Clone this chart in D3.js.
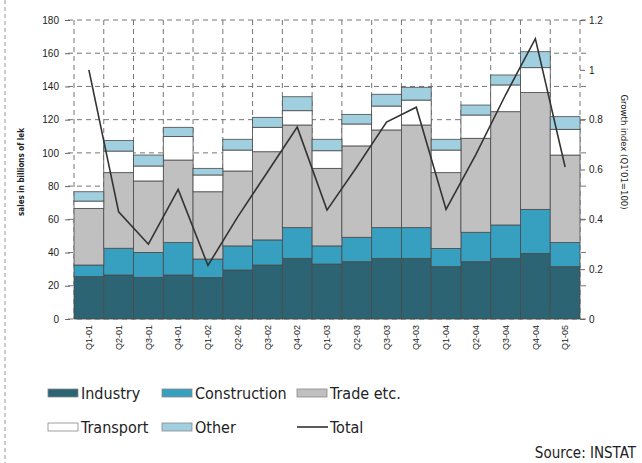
<!DOCTYPE html>
<html>
<head>
<meta charset="utf-8">
<script src="https://cdn.jsdelivr.net/npm/d3@7"></script>
<style>
  body { margin: 0; background: #fff; }
  svg { display: block; font-family: "DejaVu Sans Condensed", sans-serif; }
</style>
</head>
<body>
<script>
const w = 642;
const h = 463;

// quarters
const quarters = ["Q1-01","Q2-01","Q3-01","Q4-01","Q1-02","Q2-02","Q3-02","Q4-02",
  "Q1-03","Q2-03","Q3-03","Q4-03","Q1-04","Q2-04","Q3-04","Q4-04","Q1-05"];

// sales in billions of lek, per sector
const industry     = [25.5, 26.5, 25.1, 26.5, 24.9, 29.5, 32.5, 36.5, 33.1, 34.5, 36.5, 36.5, 31.5, 34.5, 36.5, 39.5, 31.5];
const construction = [7.0, 16.1, 15.0, 19.5, 11.2, 14.5, 15.1, 18.5, 10.9, 14.7, 18.5, 18.5, 11.0, 17.7, 20.1, 26.5, 14.5];
const trade        = [34.1, 45.5, 43.0, 49.7, 40.5, 45.1, 53.1, 61.8, 46.7, 55.0, 58.8, 61.8, 45.6, 56.6, 68.2, 70.3, 52.7];
const transport    = [4.4, 13.0, 9.0, 14.1, 10.1, 12.6, 14.7, 8.6, 10.6, 13.2, 14.4, 15.0, 13.6, 14.0, 16.1, 15.0, 15.5];
const other        = [5.6, 6.3, 6.6, 5.6, 4.0, 6.5, 6.0, 8.4, 6.9, 5.8, 7.1, 7.7, 6.5, 6.0, 6.0, 9.6, 7.6];

// growth index (Q1'01 = 100), right axis
const total = [1.0, 0.43, 0.30, 0.52, 0.215, 0.41, 0.59, 0.77, 0.437, 0.61, 0.79, 0.85, 0.44, 0.66, 0.90, 1.125, 0.61];

const leftTicks = [0, 20, 40, 60, 80, 100, 120, 140, 160, 180];
const rightTicks = [0, 0.2, 0.4, 0.6, 0.8, 1, 1.2];

const sectors = ["Industry", "Construction", "Trade etc.", "Transport", "Other"];
const sectorData = [industry, construction, trade, transport, other];
const colors = ["#2d6474", "#37a0c0", "#c0c0c0", "#ffffff", "#a0d0e0"];

const table = quarters.map((q, i) => {
  const row = { q: q };
  sectors.forEach((s, j) => row[s] = sectorData[j][i]);
  row.total = total[i];
  return row;
});

const svg = d3.select("body").append("svg").attr("width", w).attr("height", h);

// page border dashes at the left
svg.append("line")
  .attr("x1", 5).attr("x2", 5).attr("y1", 0).attr("y2", h)
  .attr("stroke", "#999").attr("stroke-dasharray", "4,3");

const xScale = d3.scaleBand().domain(quarters).range([74, 580]).padding(0);
const yScale = d3.scaleLinear().domain([0, 180]).range([319, 20]);
const y2Scale = d3.scaleLinear().domain([0, 1.2]).range([319, 20]);

// grid
const grid = svg.append("g").attr("stroke", "#666").attr("stroke-dasharray", "5,4").attr("stroke-width", 0.9);
grid.selectAll(".hg")
  .data(leftTicks)
  .enter()
  .append("line")
  .attr("x1", 68).attr("x2", 586)
  .attr("y1", d => yScale(d)).attr("y2", d => yScale(d));
grid.selectAll(".vg")
  .data(quarters.concat(["end"]))
  .enter()
  .append("line")
  .attr("x1", (d, i) => i < quarters.length ? xScale(d) : xScale.range()[1])
  .attr("x2", (d, i) => i < quarters.length ? xScale(d) : xScale.range()[1])
  .attr("y1", 20).attr("y2", 319);

// stacked bars
const stack = d3.stack().keys(sectors)(table);
svg.append("g")
  .selectAll("g")
  .data(stack)
  .enter()
  .append("g")
  .attr("fill", (d, i) => colors[i])
  .selectAll("rect")
  .data(d => d)
  .enter()
  .append("rect")
  .attr("x", d => xScale(d.data.q))
  .attr("width", xScale.bandwidth())
  .attr("y", d => yScale(d[1]))
  .attr("height", d => yScale(d[0]) - yScale(d[1]))
  .attr("stroke", "#4a4a4a")
  .attr("stroke-width", 0.8);

// total line
const line = d3.line()
  .x(d => xScale(d.q) + xScale.bandwidth() / 2)
  .y(d => y2Scale(d.total));
svg.append("path")
  .datum(table)
  .attr("d", line)
  .attr("fill", "none")
  .attr("stroke", "#333")
  .attr("stroke-width", 1.6);

// axes
const yAxis = d3.axisLeft(yScale).tickValues(leftTicks).tickSize(5).tickPadding(6);
const y2Axis = d3.axisRight(y2Scale).tickValues(rightTicks).tickSize(5).tickPadding(4)
  .tickFormat(d3.format("~g"));
const xAxis = d3.axisBottom(xScale).tickSize(0).tickPadding(0);

const gl = svg.append("g").attr("transform", "translate(70,0)").call(yAxis);
const gr = svg.append("g").attr("transform", "translate(580,0)").call(y2Axis);
const gx = svg.append("g").attr("transform", "translate(0,319)").call(xAxis);

[gl, gr, gx].forEach(g => {
  g.select(".domain").remove();
  g.selectAll("line").attr("stroke", "#666");
  g.selectAll("text").attr("fill", "#222").style("font-size", "10px");
});

gx.selectAll("text")
  .attr("transform", "rotate(-90)")
  .attr("text-anchor", "end")
  .attr("x", -6)
  .attr("y", 0)
  .attr("dy", "0.35em")
  .style("font-size", "9px");

// axis titles
svg.append("text")
  .attr("transform", "translate(24,172) rotate(-90)")
  .attr("text-anchor", "middle")
  .style("font-size", "8px")
  .style("font-weight", "bold")
  .attr("fill", "#222")
  .text("sales in billions of lek");

svg.append("text")
  .attr("transform", "translate(621,152) rotate(90)")
  .attr("text-anchor", "middle")
  .style("font-size", "9.5px")
  .attr("fill", "#222")
  .text("Growth index (Q1'01=100)");

// legend
const legendItems = [
  { name: "Industry", color: colors[0], x: 48, y: 393 },
  { name: "Construction", color: colors[1], x: 162, y: 393 },
  { name: "Trade etc.", color: colors[2], x: 297, y: 393 },
  { name: "Transport", color: colors[3], x: 48, y: 427 },
  { name: "Other", color: colors[4], x: 162, y: 427 },
  { name: "Total", color: null, x: 297, y: 427 }
];
const lg = svg.append("g").selectAll("g")
  .data(legendItems)
  .enter()
  .append("g")
  .attr("transform", d => "translate(" + d.x + "," + d.y + ")");

lg.filter(d => d.color)
  .append("rect")
  .attr("x", 0).attr("y", -4)
  .attr("width", 30).attr("height", 8)
  .attr("fill", d => d.color)
  .attr("stroke", "#888")
  .attr("stroke-width", 0.8);

lg.filter(d => !d.color)
  .append("line")
  .attr("x1", 0).attr("x2", 31)
  .attr("stroke", "#333").attr("stroke-width", 1.6);

lg.append("text")
  .attr("x", 33)
  .attr("dy", "0.35em")
  .style("font-size", "16px")
  .attr("fill", "#222")
  .text(d => d.name);

// source
svg.append("text")
  .attr("x", 636).attr("y", 458)
  .attr("text-anchor", "end")
  .style("font-size", "15px")
  .attr("fill", "#222")
  .text("Source: INSTAT");
</script>
</body>
</html>
